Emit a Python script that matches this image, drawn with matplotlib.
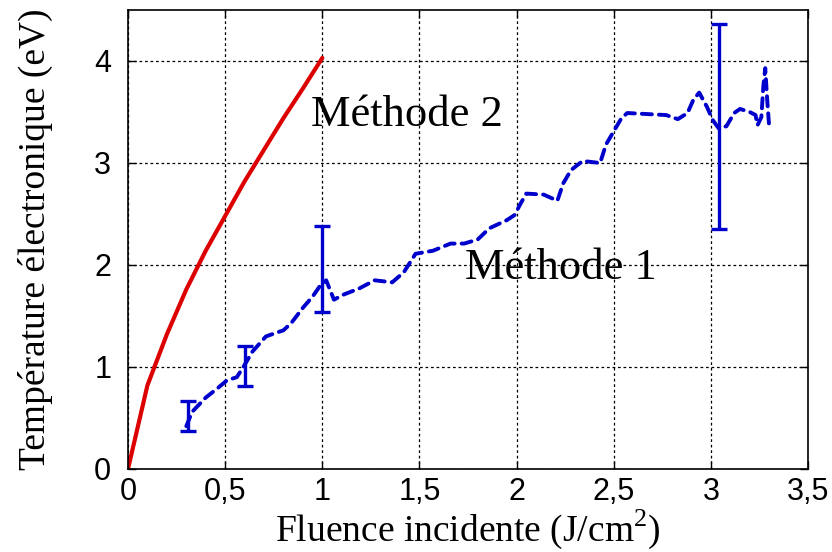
import matplotlib.pyplot as plt

# Data
m2_x = [0.0, 0.1, 0.2, 0.3, 0.4, 0.5, 0.6, 0.7, 0.8, 0.9, 1.0]
m2_y = [0.0, 0.82, 1.32, 1.76, 2.14, 2.48, 2.82, 3.13, 3.44, 3.73, 4.03]

m1_x = [0.30, 0.33, 0.40, 0.46, 0.51, 0.56, 0.60, 0.64, 0.71, 0.80, 0.84, 0.90,
        0.95, 0.99, 1.02, 1.06, 1.11, 1.19, 1.27, 1.36, 1.42, 1.48, 1.57, 1.66,
        1.73, 1.80, 1.86, 1.95, 1.99, 2.02, 2.05, 2.14, 2.21, 2.24, 2.28, 2.34,
        2.43, 2.46, 2.50, 2.54, 2.57, 2.67, 2.77, 2.83, 2.88, 2.91, 2.94, 2.98,
        3.01, 3.04, 3.08, 3.12, 3.15, 3.20, 3.23, 3.24, 3.26, 3.27, 3.28, 3.29, 3.30]
m1_y = [0.42, 0.56, 0.70, 0.79, 0.87, 0.90, 1.02, 1.15, 1.30, 1.36, 1.43, 1.58,
        1.69, 1.80, 1.85, 1.66, 1.71, 1.77, 1.85, 1.83, 1.93, 2.11, 2.14, 2.21,
        2.21, 2.25, 2.36, 2.44, 2.49, 2.60, 2.70, 2.69, 2.63, 2.80, 2.93, 3.02,
        3.00, 3.18, 3.31, 3.44, 3.49, 3.48, 3.47, 3.43, 3.49, 3.62, 3.69, 3.55,
        3.42, 3.34, 3.36, 3.49, 3.53, 3.50, 3.47, 3.37, 3.45, 3.75, 3.93, 3.62, 3.36]

err_x = [0.31, 0.60, 1.00, 3.04]
err_low = [0.37, 0.81, 1.54, 2.35]
err_high = [0.67, 1.21, 2.38, 4.36]

xticks = [0, 0.5, 1, 1.5, 2, 2.5, 3, 3.5]
xtick_labels = ['0', '0,5', '1', '1,5', '2', '2,5', '3', '3,5']
yticks = [0, 1, 2, 3, 4]

plt.rcParams['mathtext.fontset'] = 'custom'
plt.rcParams['mathtext.rm'] = 'Liberation Serif'

fig = plt.figure(figsize=(8.32, 5.52), dpi=100)
ax = fig.add_axes([128 / 832, 83 / 552, 680 / 832, 459 / 552])

# grid
ax.grid(True, linestyle=(0, (2.2, 2.2)), linewidth=0.9, color='black')
ax.set_axisbelow(True)

# curves
ax.plot(m2_x, m2_y, color='#dd0000', linewidth=3.0, solid_capstyle='round')
ax.plot(m1_x, m1_y, color='#0000cc', linewidth=2.8, linestyle=(0, (2.6, 1.8)),
        dash_capstyle='round')

center = [(lo + hi) / 2 for lo, hi in zip(err_low, err_high)]
half = [(hi - lo) / 2 for lo, hi in zip(err_low, err_high)]
ax.errorbar(err_x, center, yerr=half, fmt='none', ecolor='#0000cc',
            elinewidth=2.4, capsize=6, capthick=2.4)

ax.text(0.94, 3.36, 'Méthode 2', family='Liberation Serif', fontsize=32)
ax.text(1.735, 1.86, 'Méthode 1', family='Liberation Serif', fontsize=32)

ax.set_xlim(0, 3.5)
ax.set_ylim(0, 4.5)
ax.set_xticks(xticks)
ax.set_xticklabels(xtick_labels)
ax.set_yticks(yticks)
ax.tick_params(direction='in', length=6, width=1, top=True, right=True,
               labelsize=22)
ax.tick_params(axis='x', pad=6)
ax.tick_params(axis='y', pad=12)
for lab in ax.get_xticklabels() + ax.get_yticklabels():
    lab.set_family('Liberation Sans')
for sp in ax.spines.values():
    sp.set_linewidth(1.2)

ax.set_xlabel('Fluence incidente (J/cm$^{2}$)', family='Liberation Serif',
              fontsize=27, labelpad=0)
ax.set_ylabel('Température électronique (eV)', family='Liberation Serif',
              fontsize=27, labelpad=30)

fig.savefig('out.png', dpi=100)
